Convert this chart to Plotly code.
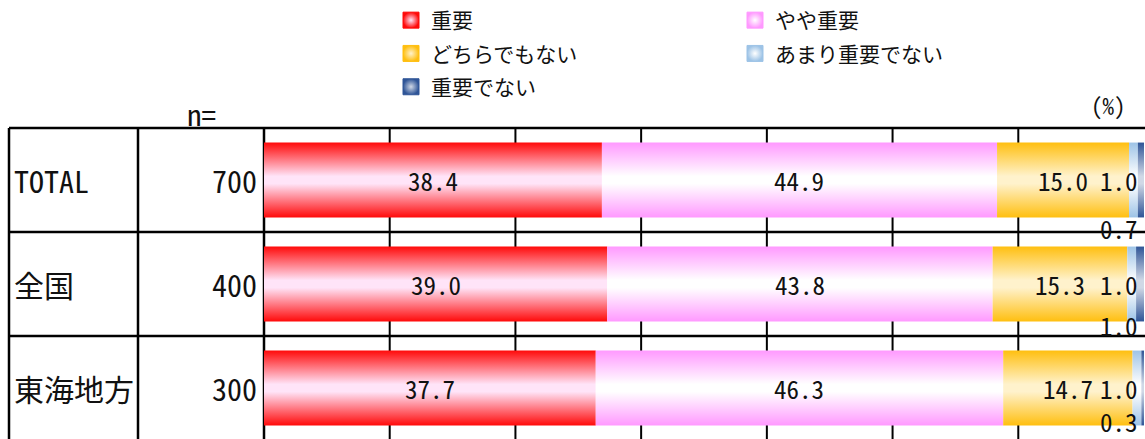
import plotly.graph_objects as go

# ---------------- data ----------------
categories = ["TOTAL", "全国", "東海地方"]
n_values = [700, 400, 300]
series_names = ["重要", "やや重要", "どちらでもない", "あまり重要でない", "重要でない"]
important = [38.4, 39.0, 37.7]
somewhat_important = [44.9, 43.8, 46.3]
neutral = [15.0, 15.3, 14.7]
not_very_important = [1.0, 1.0, 1.0]
not_important = [0.7, 1.0, 0.3]
series_values = [important, somewhat_important, neutral, not_very_important, not_important]

# ---------------- style ----------------
edge_colors = ["#FF0A0A", "#FF99FF", "#FFBF10", "#9DC3E6", "#2F5597"]
mid_colors = ["#FFE4F8", "#FFFFFF", "#FFF2CC", "#FFFFFF", "#D0D8E6"]
legend_ids = ["legend", "legend2", "legend", "legend2", "legend"]
MONO = "Noto Sans Mono CJK JP, DejaVu Sans Mono, monospace"
CJK = "Noto Sans CJK JP, sans-serif"
W, H = 1145, 439
ML, MR, MT, MB = 264, 1, 128, 0
PLOT_H = H - MT - MB
PLOT_W = W - ML - MR
ROW_PX = 104
BAR_HALF = 0.36
LINE_W = 2.5
TXT = "#111111"


def px_to_paper_x(px):
    return (px - ML) / PLOT_W


def px_to_paper_y(py):
    return 1 - (py - MT) / PLOT_H


fig = go.Figure()

# gradient bar segments
for s, (name, vals) in enumerate(zip(series_names, series_values)):
    cs = [[0, edge_colors[s]], [0.45, mid_colors[s]], [0.55, mid_colors[s]], [1, edge_colors[s]]]
    for r, v in enumerate(vals):
        base = sum(series_values[k][r] for k in range(s))
        fig.add_trace(go.Scatter(
            x=[base, base + v, base + v, base, base],
            y=[r - BAR_HALF, r - BAR_HALF, r + BAR_HALF, r + BAR_HALF, r - BAR_HALF],
            mode="lines", fill="toself", line=dict(width=0),
            fillgradient=dict(type="vertical", colorscale=cs),
            showlegend=False, hoverinfo="skip", name=name,
        ))
    # legend entry
    fig.add_trace(go.Scatter(
        x=[None], y=[None], mode="markers", name=name, legend=legend_ids[s], legendgroup=f"g{s}",
        marker=dict(symbol="square", size=16, color=edge_colors[s],
                    line=dict(color=edge_colors[s], width=1),
                    gradient=dict(type="radial", color=mid_colors[s])),
    ))

annotations = []
LBL = dict(family=MONO, size=25, color=TXT)
# labels inside bars
for r in range(len(categories)):
    cum = 0
    for s, vals in enumerate(series_values):
        v = vals[r]
        if s <= 2:
            annotations.append(dict(x=cum + v / 2, y=r, xref="x", yref="y", text=f"{v:.1f}",
                                    xanchor="center", yanchor="middle", showarrow=False, font=LBL))
        cum += v

small_dy = [0.46, 0.39, 0.32]
for r in range(len(categories)):
    annotations.append(dict(x=99.6, y=r, xref="x", yref="y", text=f"{not_very_important[r]:.1f}",
                            xanchor="right", yanchor="middle", showarrow=False, font=LBL))
    annotations.append(dict(x=99.6, y=r + small_dy[r], xref="x", yref="y", text=f"{not_important[r]:.1f}",
                            xanchor="right", yanchor="middle", showarrow=False, font=LBL))

# table column texts
for r, (c, n) in enumerate(zip(categories, n_values)):
    annotations.append(dict(x=px_to_paper_x(12), y=r, xref="paper", yref="y", text=c,
                            xanchor="left", yanchor="middle", showarrow=False,
                            font=dict(family=MONO, size=30, color=TXT)))
    annotations.append(dict(x=px_to_paper_x(259), y=r, xref="paper", yref="y", text=str(n),
                            xanchor="right", yanchor="middle", showarrow=False,
                            font=dict(family=MONO, size=30, color=TXT)))

annotations.append(dict(x=px_to_paper_x(201), y=px_to_paper_y(113), xref="paper", yref="paper", text="n=",
                        xanchor="center", yanchor="middle", showarrow=False,
                        font=dict(family=MONO, size=29, color=TXT)))
annotations.append(dict(x=px_to_paper_x(1108), y=px_to_paper_y(105), xref="paper", yref="paper", text="(%)",
                        xanchor="center", yanchor="middle", showarrow=False,
                        font=dict(family=MONO, size=23, color=TXT)))

shapes = []
line = dict(color="black", width=LINE_W)
# vertical grid lines (7 equal divisions)
for k in range(1, 7):
    shapes.append(dict(type="line", xref="x", yref="paper", x0=k * 100 / 7, x1=k * 100 / 7,
                       y0=0, y1=1, line=dict(color="black", width=2), layer="below"))
# table vertical lines
for px in [9, 138, 264]:
    shapes.append(dict(type="line", xref="paper", yref="paper", x0=px_to_paper_x(px), x1=px_to_paper_x(px),
                       y0=-0.05, y1=1, line=line, layer="below"))
# table horizontal lines
for k in range(len(categories)):
    y = px_to_paper_y(MT + k * ROW_PX)
    shapes.append(dict(type="line", xref="paper", yref="paper", x0=px_to_paper_x(9), x1=1.01,
                       y0=y, y1=y, line=line, layer="below"))

legend_common = dict(orientation="v", xanchor="left", yanchor="top", y=px_to_paper_y(0),
                     font=dict(family=CJK, size=21, color=TXT), bgcolor="rgba(0,0,0,0)",
                     traceorder="grouped", tracegroupgap=3, itemwidth=30)

fig.update_layout(
    width=W, height=H,
    margin=dict(l=ML, r=MR, t=MT, b=MB, pad=0),
    paper_bgcolor="white", plot_bgcolor="white",
    xaxis=dict(range=[0, 100], showgrid=False, zeroline=False, showticklabels=False, showline=False,
               fixedrange=True),
    yaxis=dict(range=[-0.5 + PLOT_H / ROW_PX, -0.5], showgrid=False, zeroline=False, showticklabels=False,
               showline=False, fixedrange=True),
    legend=dict(x=px_to_paper_x(391), **legend_common),
    legend2=dict(x=px_to_paper_x(735), **legend_common),
    annotations=annotations,
    shapes=shapes,
    showlegend=True,
)

fig.write_html("out.html", config={"displayModeBar": False},
               post_script="document.body.style.margin='0';")
